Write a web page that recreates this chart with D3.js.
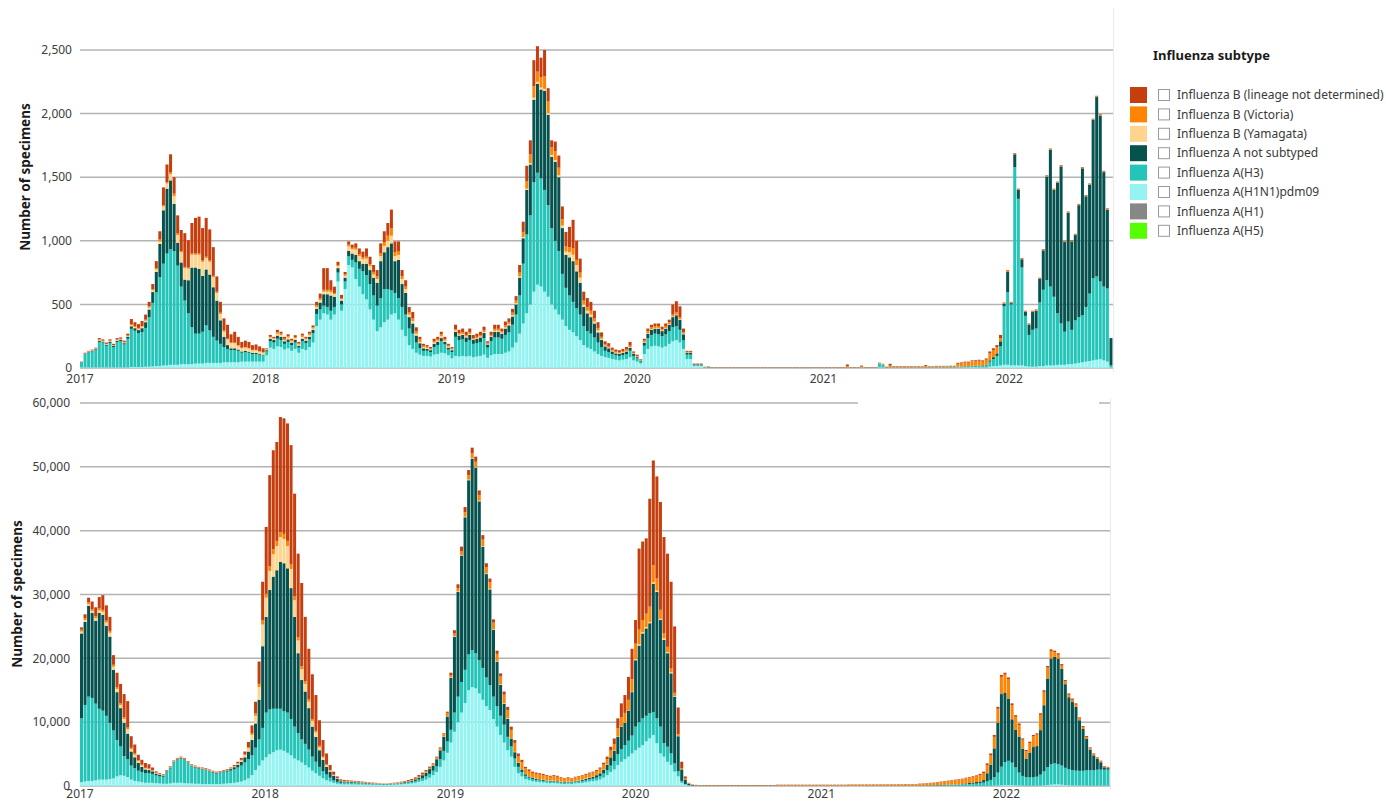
<!DOCTYPE html>
<html>
<head>
<meta charset="utf-8">
<script src="https://cdn.jsdelivr.net/npm/d3@7"></script>
<style>
  body { margin: 0; background: #fff; }
  svg { font-family: 'Segoe UI', 'Noto Sans', 'Open Sans', sans-serif; }
</style>
</head>
<body>
<svg class="fluViz" width="1386" height="801"></svg>
<script>
// weekly specimen counts, week 0 starts 2017-01-01
// top panel
const topH1N1 = [
  5,5,5,5,5,5,5,5,5,5, 5,5,5,5,8,8,8,8,10,10, 12,15,15,20,20,25,25,25,30,30, 30,30,35,35,35,40,40,40,40,40, 45,45,45,45,45,50,50,50,50,50, 50,50,
  100,160,150,170,165,145,155,135,150,120, 150,140,165,200,330,380,430,420,380,420, 680,450,620,810,790,700,640,580,540,460, 380,290,320,360,380,420,430,380,300,250, 180,150,120,105,95,95,90,105,110,120, 115,100,
  75,95,90,95,90,95,85,90,95,105, 80,100,110,110,110,120,130,160,200,270, 350,430,500,600,655,640,600,560,500,460, 420,380,330,300,280,250,220,180,160,150, 130,110,95,85,80,70,65,60,65,70, 85,60,
  50,35,110,150,170,175,170,160,170,190, 210,220,200,150,70,70,15,15,15,4,
  3,2,2,1,1,1,1,1,1,1, 1,1,1,1,1,1,1,1,1,1, 1,1,1,1,1,1,1,1,1,1, 1,1,1,1,1,1,1,1,1,2, 1,1,1,2,1,1,1,1,5,4, 1,2,2,2,2,2,2,2,2,2, 2,2,2,2,3,3,3,3,3,3, 4,4,5,5,6,6,5,
  5,5,10,15,15,20,25,25,20,20, 20,20,15,10,10,10,15,15,20,20, 20,25,25,25,30,30,35,40,45,50, 55,60,65,70,60,50,5
];
const topH3 = [
  40,105,118,125,140,200,195,170,190,160, 200,205,180,225,300,285,265,275,305,390, 500,580,700,800,880,910,895,780,610,500, 400,290,235,235,250,295,255,205,175,150, 120,105,95,95,90,70,75,70,60,60, 55,50,
  30,50,50,60,55,45,50,45,50,40, 60,55,60,75,95,80,60,60,70,60, 70,50,60,70,60,130,140,180,190,200, 190,200,230,260,240,190,160,170,180,170, 130,120,80,50,40,40,35,60,70,90, 70,45,
  50,150,130,130,115,125,105,105,110,130, 80,110,130,130,120,140,150,180,220,300, 470,620,700,860,880,850,800,720,600,540, 500,360,300,270,240,220,200,150,130,120, 110,90,70,50,45,40,35,35,35,40, 50,35,
  25,15,65,85,90,95,95,90,95,100, 110,110,100,70,35,35,8,8,8,2,
  3,2,1,1,1,1,1,1,1,1, 1,1,1,1,1,1,1,1,1,1, 1,1,1,1,1,1,1,1,1,1, 1,1,1,1,1,1,1,1,1,3, 1,1,1,2,1,1,1,1,30,22, 2,3,2,2,2,2,2,2,2,2, 2,2,2,2,3,3,3,3,3,3, 5,5,6,6,8,8,10,
  10,15,40,55,80,150,460,570,480,1560, 1310,770,395,250,290,300,500,600,670,620, 540,405,325,260,335,270,340,360,370,430, 530,645,655,610,580,575,15
];
const topANotSub = [
  0,3,4,5,5,10,8,8,10,8, 10,10,10,15,20,20,25,30,45,60, 85,160,260,420,510,540,370,180,190,165, 260,470,520,510,440,440,440,390,315,185, 80,30,15,15,10,10,10,8,8,8, 8,5,
  10,20,20,25,25,20,20,20,20,15, 20,20,20,25,40,55,90,100,120,80, 35,30,30,40,50,60,60,60,90,110, 140,180,290,290,330,370,250,300,180,170, 90,80,55,40,20,15,15,25,25,25, 20,15,
  15,40,35,35,35,40,30,35,35,40, 25,35,45,45,40,50,55,65,80,140, 200,350,400,650,700,700,780,710,560,620, 580,360,260,300,320,290,250,150,140,130, 110,80,55,35,30,20,15,15,20,20, 25,15,
  10,8,25,35,40,40,45,40,45,50, 80,85,80,45,15,15,5,5,5,1,
  2,1,1,1,1,1,1,1,1,1, 1,1,1,1,1,1,1,1,1,1, 1,1,1,1,1,1,1,1,1,1, 1,1,1,1,1,1,1,1,1,1, 1,1,1,1,1,1,1,1,1,1, 1,1,1,1,1,1,1,1,1,1, 1,1,1,1,1,1,1,1,1,1, 2,2,3,3,3,4,4,
  5,5,10,15,20,40,20,160,10,100, 70,65,30,80,140,140,185,310,815,1075, 840,1025,1235,705,855,695,670,880,1155,870, 855,1245,1410,1305,900,620,215
];
// no Yamagata reported after mid 2020
const topBYam = [
  0,2,3,3,3,5,5,5,5,5, 5,5,5,5,10,10,10,12,12,15, 15,20,20,30,40,50,60,60,80,90, 90,100,100,110,110,90,100,80,60,50, 40,45,40,40,30,25,25,25,20,20, 15,15,
  5,10,10,15,15,10,15,10,15,10, 15,10,15,10,15,20,20,20,25,20, 15,10,15,35,35,40,40,35,40,30, 25,30,40,50,50,60,40,40,40,30, 20,20,15,10,10,8,5,10,10,15, 10,8,
  5,10,8,8,8,8,5,5,8,8, 5,5,8,8,8,10,10,10,10,10, 10,10,10,15,15,15,15,15,15,15, 15,20,25,40,50,50,40,20,20,20, 15,15,10,5,5,5,5,5,5,5, 5,3,
  3,2,5,5,5,5,5,5,5,5, 5,5,5,5,2,2
];
const topBVic = [
  0,0,0,2,2,5,2,2,5,2, 5,5,5,5,7,7,7,5,8,10, 8,10,15,10,10,15,20,15,10,10, 10,10,10,10,10,10,10,10,10,10, 10,5,5,5,5,5,5,5,5,5, 5,5,
  5,5,5,10,10,10,10,10,8,8, 10,8,10,10,15,15,15,15,15,10, 10,10,10,15,10,15,15,15,15,15, 20,20,20,30,40,60,30,30,20,20, 20,20,20,20,10,10,8,10,10,15, 10,8,
  8,10,12,12,12,12,10,10,12,12, 8,10,15,15,10,15,15,20,20,30, 40,60,70,90,80,80,100,90,60,70, 60,50,40,40,50,40,40,30,30,30, 25,20,15,10,10,8,8,8,8,10, 10,7,
  7,5,10,15,15,15,15,10,15,15, 15,20,15,10,5,5,2,2,2,1,
  1,1,1,1,1,1,1,1,1,1, 1,1,1,1,1,1,1,1,1,1, 1,1,1,1,1,1,1,1,1,1, 1,1,1,1,2,2,2,2,2,10, 2,2,2,6,2,2,2,3,3,3, 3,12,6,6,6,7,6,6,6,6, 5,8,5,5,6,6,6,6,7,7, 22,25,28,28,35,35,38,
  30,40,55,55,50,25,5,10,5,5, 5,5,5,5,5,5,5,5,5,5, 5,5,5,5,5,5,5,5,5,5, 5,5,5,5,5,5,0
];
const topBND = [
  5,5,5,5,5,10,10,10,10,10, 10,10,10,15,40,30,30,40,40,35, 40,55,65,140,140,140,130,140,165,265, 215,240,280,290,255,305,245,225,120,85, 95,110,65,85,65,45,50,47,37,42, 37,30,
  5,15,10,20,15,15,15,10,15,12, 15,12,15,15,25,35,170,170,80,50, 25,25,20,25,25,35,45,45,65,60, 55,50,80,85,100,145,85,75,50,50, 40,50,30,20,15,12,12,20,20,20, 20,14,
  12,35,25,30,25,30,25,25,25,30, 12,25,32,32,22,30,30,30,35,60, 80,120,110,205,200,155,205,105,55,75, 95,100,115,160,225,150,110,70,70,70, 60,45,35,25,25,17,17,17,17,20, 30,10,
  10,5,15,20,20,20,20,20,20,20, 80,85,85,30,8,8,5,5,5,2,
  3,2,2,2,2,2,2,2,2,2, 2,2,2,2,2,2,2,2,2,2, 2,2,2,2,2,2,2,2,2,2, 2,2,2,2,2,2,2,2,2,12, 2,2,2,8,2,2,2,2,3,3, 3,15,4,4,4,4,4,4,4,4, 4,10,4,4,4,4,4,4,4,4, 8,8,8,8,8,8,8,
  10,10,15,15,15,25,5,5,5,5, 5,5,5,5,5,5,5,5,5,5, 5,5,5,5,5,5,5,5,5,5, 5,5,5,5,5,5,0
];
const topH1 = [];
const topH5 = [];

// bottom panel
const botH1N1 = [
  600,700,800,800,900,1000,1000,1000,1100,1200, 1500,1700,1600,1400,1000,800,700,600,500,500, 500,450,400,350,350,400,500,500,500,450, 400,400,350,350,300,300,300,300,300,300, 350,400,450,500,600,700,900,1200,1700,2500, 3200,4000,
  4500,5000,5300,5600,5700,5500,5200,4800,4300,4000, 3700,3300,2900,2400,2000,1600,1200,900,700,500, 350,250,250,250,240,230,220,210,200,190, 180,170,160,150,150,170,190,210,250,300, 350,400,500,650,800,1000,1300,1700,2200,3000, 4000,5200,
  6800,8500,10000,11500,13000,15000,15500,15300,14500,13500, 12500,11900,10500,9300,8000,6800,5600,4600,3000,2000, 1500,1100,900,750,650,600,550,500,450,450, 400,350,300,350,300,400,450,500,600,700, 750,850,1000,1300,1700,2200,2600,3300,3800,4200, 4600,5100,
  5600,6000,6400,7000,7460,8000,6700,5100,4600,3800, 3300,2250,1500,500,200,80,40,30,20,20,
  10,10,10,10,10,10,10,10,10,10, 10,10,10,10,10,10,10,10,10,10, 10,10,10,10,10,10,10,10,10,10, 10,10,10,10,10,10,10,10,10,10, 10,10,10,10,10,10,10,10,10,10, 10,10,10,10,10,10,10,10,10,10, 10,10,10,10,10,10,10,10,10,10, 15,15,20,20,20,20,20,
  20,30,40,50,80,100,120,150,150,150, 120,100,80,60,60,60,60,80,100,150, 200,250,250,200,150,120,100,100,80,80, 70,60,60,60,60,60,60
];
const botH3 = [
  10000,12000,13200,13000,12000,11100,10800,10000,8800,7500, 5700,4500,3100,2800,2200,2000,1700,1600,1500,1500, 1400,1200,1100,1100,1800,2350,3200,3600,3800,3650, 3200,2700,2550,2350,2300,2200,2000,1800,1650,1750, 1800,1850,1950,2100,2300,2500,2800,3000,3100,3500, 4100,5100,
  7000,7000,6800,6500,6400,6200,6300,5700,5000,4300, 3600,3300,2800,2200,1800,1400,1100,900,600,400, 300,250,300,280,270,250,240,220,200,190, 170,150,130,120,120,130,150,160,150,180, 200,250,300,350,400,500,600,700,900,1200, 1500,1800,
  2000,3000,4000,4800,5200,5600,5800,5500,5200,5000, 4500,3900,3500,3200,3000,2800,2100,1600,1300,1000, 700,500,400,350,300,300,250,250,250,250, 250,200,200,200,200,250,250,300,300,350, 400,450,500,650,800,1000,1300,1700,2000,2200, 2500,2800,
  3700,4000,4200,4000,3940,3600,3900,4200,2100,2360, 1800,1300,800,300,100,50,30,20,20,20,
  20,20,20,20,20,20,20,20,20,20, 20,20,20,20,20,20,20,20,20,20, 20,20,20,20,20,20,20,20,20,20, 20,20,20,20,20,20,20,20,20,20, 20,20,20,20,20,20,20,20,20,20, 20,20,20,20,20,20,20,20,20,20, 30,40,50,60,80,100,120,140,160,180, 200,220,250,280,300,330,350,
  400,500,700,900,1300,2000,2900,3600,3800,3500, 2800,2000,1500,1300,1300,1300,1400,1700,2200,2800, 3200,3300,3200,3000,2700,2500,2400,2300,2300,2300, 2400,2400,2400,2500,2500,2500,2500
];
const botANotSub = [
  13300,13000,14200,13300,13000,15000,15000,14100,13500,9500, 7500,6000,5200,4000,2200,1700,1200,800,600,500, 400,300,250,200,150,150,100,100,100,100, 100,100,100,100,100,100,100,100,100,100, 150,200,250,350,450,600,800,1200,2400,3800, 6200,12800,
  15000,18700,20700,21700,23000,23200,22600,20500,17200,12500, 9300,8200,6500,4700,3900,2600,1800,1200,950,700, 450,250,150,140,130,120,110,100,90,80, 70,60,60,50,50,60,60,70,100,120, 150,180,250,320,500,600,750,800,1100,1400, 2200,3900,
  8150,11900,16400,19800,23900,27300,30000,29100,24900,19000, 16200,15000,10500,7000,4850,3300,2800,1250,1000,600, 400,250,200,150,150,150,150,100,100,100, 100,100,100,100,100,100,100,150,200,250, 300,400,500,600,800,1300,1600,2700,3500,3500, 4700,6800,
  10400,12000,13300,13700,14100,20100,19800,16700,16200,14640, 12550,10450,5500,1800,700,200,80,50,40,40,
  30,30,30,30,30,30,30,30,30,30, 30,30,30,30,30,30,30,30,30,30, 30,30,30,30,30,30,30,30,30,30, 30,30,30,30,30,30,30,30,30,30, 30,30,30,30,30,30,30,30,30,30, 30,30,30,30,30,30,30,30,30,30, 30,30,30,30,30,30,30,30,30,30, 30,30,30,100,150,200,250,
  280,400,1260,2400,4520,7800,11380,10900,9750,6800, 5930,5650,4280,2880,3880,4740,4790,6970,10350,13900, 16550,16700,16500,15150,13100,11280,10650,10000,7920,6570, 4960,3240,2340,1690,1160,370,240
];
// no Yamagata reported after mid 2020
const botBYam = [
  300,300,300,300,400,400,500,500,600,500, 500,500,600,700,400,400,300,200,150,150, 100,80,70,60,60,60,50,50,50,50, 50,50,50,50,50,50,50,50,50,50, 50,50,80,100,150,200,300,500,800,1200, 2000,3400,
  3000,3000,3500,3800,3900,3800,3500,3000,2600,2000, 1700,1200,1000,900,700,500,350,250,150,100, 80,50,30,30,30,30,30,30,30,30, 30,30,30,30,30,30,30,30,30,30, 30,30,30,40,40,40,40,50,50,50, 60,60,
  100,100,100,100,100,100,100,100,100,100, 100,100,100,100,100,100,100,50,50,50, 50,50,50,50,50,50,50,50,50,50, 50,50,50,50,50,50,50,50,50,50, 50,50,50,50,50,50,50,50,50,50, 50,50,
  200,200,200,200,200,200,200,200,200,200, 150,100,50,20,10,10,5
];
const botBVic = [
  300,300,300,300,300,300,300,300,300,300, 250,250,250,250,200,200,150,150,100,100, 80,70,60,50,50,50,50,50,50,50, 50,50,50,50,50,50,50,50,50,50, 50,50,60,70,80,100,150,200,300,400, 500,700,
  600,700,800,800,800,800,800,700,600,500, 450,400,350,300,250,200,150,120,100,80, 60,50,60,60,60,60,50,50,50,50, 50,50,40,40,40,40,40,40,50,50, 60,60,80,100,120,140,160,180,200,250, 350,500,
  300,400,500,600,700,700,700,800,900,1000, 1000,1000,1000,1100,1200,1300,1300,1300,1400,1050, 1100,850,800,750,750,700,700,650,600,700, 650,600,450,600,450,550,600,600,600,600, 600,600,650,750,850,1000,1000,1300,1400,1500, 1650,2000,
  2400,2300,1900,2100,2400,2700,1900,1400,800,800, 600,500,300,200,150,80,50,50,40,40,
  50,50,50,50,50,50,50,50,50,50, 50,50,50,50,50,50,50,50,50,50, 100,100,100,100,100,100,100,100,100,100, 100,100,100,100,100,100,100,100,100,100, 150,150,150,150,150,160,160,160,170,170, 170,180,180,180,190,190,200,200,200,200, 250,280,300,330,360,400,450,500,550,600, 650,700,750,800,850,900,950,
  1000,1100,1300,1500,1800,2200,2700,2800,3000,2200, 2000,1800,1400,1200,1500,1700,1800,2400,2100,1700, 1200,700,600,500,450,400,350,350,300,300, 250,200,200,150,150,100,100
];
const botBND = [
  350,600,700,1200,1400,1800,2300,2400,2200,1500, 2300,3050,3650,4150,1800,1400,850,750,750,650, 420,200,120,90,90,90,100,100,100,100, 100,100,100,100,100,100,100,100,100,100, 100,100,110,180,220,300,450,800,1200,1800, 3500,6000,
  10500,14300,15500,15500,18000,18100,18400,18700,16100,13100, 13050,10100,7950,7000,5600,4000,2600,1730,800,470, 260,200,160,140,120,110,100,90,80,60, 50,40,30,30,30,40,50,60,100,100, 150,180,200,260,230,220,180,120,150,150, 140,180,
  400,500,600,700,800,800,900,800,700,700, 600,600,500,500,500,500,500,500,450,400, 350,250,250,200,200,200,200,150,150,150, 150,100,100,100,100,100,100,100,150,150, 150,150,200,300,400,600,900,1550,2200,2800, 3600,4750,
  3700,12700,12300,11800,16900,16400,16000,16900,15100,14600, 13600,10400,4150,980,340,80,45,30,30,30,
  50,50,50,50,50,50,50,50,50,50, 50,50,50,50,50,50,50,50,50,50, 50,50,50,50,50,50,50,50,50,50, 50,50,50,50,50,50,50,50,50,50, 50,50,50,50,50,50,50,50,50,50, 50,50,50,50,50,50,50,50,50,50, 60,60,70,70,70,80,80,80,90,90, 100,100,100,100,100,100,100,
  200,220,250,250,300,300,300,300,300,300, 250,250,200,200,200,200,200,250,250,250, 250,250,250,250,200,200,200,200,150,150, 150,150,100,100,100,100,100
];
const botH1 = [];
const botH5 = [];

const topTicks = [0, 500, 1000, 1500, 2000, 2500];
const botTicks = [0, 10000, 20000, 30000, 40000, 50000, 60000];

// stacking order, bottom to top
const stackKeys = ['h5', 'h1', 'h1n1', 'h3', 'anot', 'byam', 'bvic', 'bnd'];
const legendKeys = ['bnd', 'bvic', 'byam', 'anot', 'h3', 'h1n1', 'h1', 'h5'];
const legendLabels = [
  'Influenza B (lineage not determined)',
  'Influenza B (Victoria)',
  'Influenza B (Yamagata)',
  'Influenza A not subtyped',
  'Influenza A(H3)',
  'Influenza A(H1N1)pdm09',
  'Influenza A(H1)',
  'Influenza A(H5)'
];
const colorList = ['#c53e0e', '#ff8402', '#ffd48e', '#05524f', '#24c4b8', '#93f4f2', '#878787', '#55ff00'];

const color = d3.scaleOrdinal().domain(legendKeys).range(colorList);
const svg = d3.select('svg.fluViz');
const startDate = new Date(2017, 0, 1);

function drawPanel(opts){
  const n = opts.series.h3.length;
  const weeks = d3.range(n + 1).map(i => d3.timeDay.offset(startDate, i * 7));

  const rows = weeks.slice(0, n).map((w, i) => {
    const r = {week: w, next: weeks[i + 1]};
    stackKeys.forEach(k => { r[k] = opts.series[k][i] || 0; });
    return r;
  });

  const x = d3.scaleTime()
              .domain([weeks[0], weeks[n]])
              .range([opts.left, opts.right]);

  const y = d3.scaleLinear()
              .domain([0, d3.max(opts.ticks)])
              .range([opts.base, opts.top]);

  const g = svg.append('g').attr('class', opts.name);

  // grid lines
  g.append('g')
    .selectAll('line')
    .data(opts.ticks)
    .enter()
    .append('line')
    .attr('x1', opts.left)
    .attr('x2', opts.right)
    .attr('y1', d => y(d))
    .attr('y2', d => y(d))
    .style('stroke', '#b3b3b3')
    .style('stroke-width', 1.5);

  const stacked = d3.stack().keys(stackKeys)(rows);

  g.append('g')
    .selectAll('g.layer')
    .data(stacked)
    .enter()
    .append('g')
    .attr('class', 'layer')
    .style('fill', d => color(d.key))
    .selectAll('rect')
    .data(d => d)
    .enter()
    .append('rect')
    .attr('x', d => x(d.data.week))
    .attr('width', d => Math.max(0, x(d.data.next) - x(d.data.week) - 0.55))
    .attr('y', d => y(d[1]))
    .attr('height', d => Math.max(0, y(d[0]) - y(d[1])));

  // y tick labels
  g.append('g')
    .selectAll('text')
    .data(opts.ticks)
    .enter()
    .append('text')
    .attr('x', opts.labelX)
    .attr('y', d => y(d))
    .attr('dy', '0.35em')
    .text(d3.format(','))
    .style('text-anchor', 'end')
    .style('font-size', '12px')
    .style('fill', '#3c3c3c');

  // year labels
  g.append('g')
    .selectAll('text')
    .data(d3.timeYear.range(startDate, weeks[n]))
    .enter()
    .append('text')
    .attr('x', d => x(d))
    .attr('y', opts.yearY)
    .text(d3.timeFormat('%Y'))
    .style('text-anchor', 'middle')
    .style('font-size', '12px')
    .style('fill', '#3c3c3c');

  g.append('text')
    .attr('transform', `translate(${opts.titleX}, ${opts.titleY}) rotate(-90)`)
    .attr('dy', '0.35em')
    .text('Number of specimens')
    .style('text-anchor', 'middle')
    .style('font-size', '13.5px')
    .style('font-weight', 700)
    .style('fill', '#1a1a1a');

  // faint frame on the right
  g.append('line')
    .attr('x1', opts.right + 0.5)
    .attr('x2', opts.right + 0.5)
    .attr('y1', opts.frameTop)
    .attr('y2', opts.base + 4)
    .style('stroke', '#ebebeb')
    .style('stroke-width', 1);
}

drawPanel({
  name: 'topPanel',
  series: {h1n1: topH1N1, h3: topH3, anot: topANotSub, byam: topBYam, bvic: topBVic, bnd: topBND, h1: topH1, h5: topH5},
  ticks: topTicks,
  left: 80, right: 1113, base: 368, top: 50,
  labelX: 72, yearY: 383, titleX: 25, titleY: 177, frameTop: 8
});

drawPanel({
  name: 'bottomPanel',
  series: {h1n1: botH1N1, h3: botH3, anot: botANotSub, byam: botBYam, bvic: botBVic, bnd: botBND, h1: botH1, h5: botH5},
  ticks: botTicks,
  left: 80, right: 1110, base: 786, top: 403,
  labelX: 70, yearY: 798, titleX: 17, titleY: 594, frameTop: 398
});

// the legend box of the top chart hides part of the upper grid line below
svg.append('rect')
  .attr('x', 858)
  .attr('y', 397)
  .attr('width', 241)
  .attr('height', 12)
  .style('fill', '#fff');

// legend
const legend = svg.append('g').attr('class', 'legend');

legend.append('text')
  .attr('x', 1153)
  .attr('y', 60)
  .text('Influenza subtype')
  .style('font-size', '13px')
  .style('font-weight', 700)
  .style('fill', '#1a1a1a');

const items = legend.selectAll('g.item')
  .data(legendKeys)
  .enter()
  .append('g')
  .attr('class', 'item')
  .attr('transform', (d, i) => `translate(0, ${95 + i * 19.4})`);

items.append('rect')
  .attr('x', 1130)
  .attr('y', -8)
  .attr('width', 17)
  .attr('height', 16)
  .style('fill', d => color(d));

items.append('rect')
  .attr('x', 1158.5)
  .attr('y', -5.5)
  .attr('width', 11)
  .attr('height', 11)
  .style('fill', '#fff')
  .style('stroke', '#9a9a9a')
  .style('stroke-width', 1);

items.append('text')
  .attr('x', 1177)
  .attr('y', 0)
  .attr('dy', '0.35em')
  .text((d, i) => legendLabels[i])
  .style('font-size', '12px')
  .style('fill', '#3a3a3a');
</script>
</body>
</html>
